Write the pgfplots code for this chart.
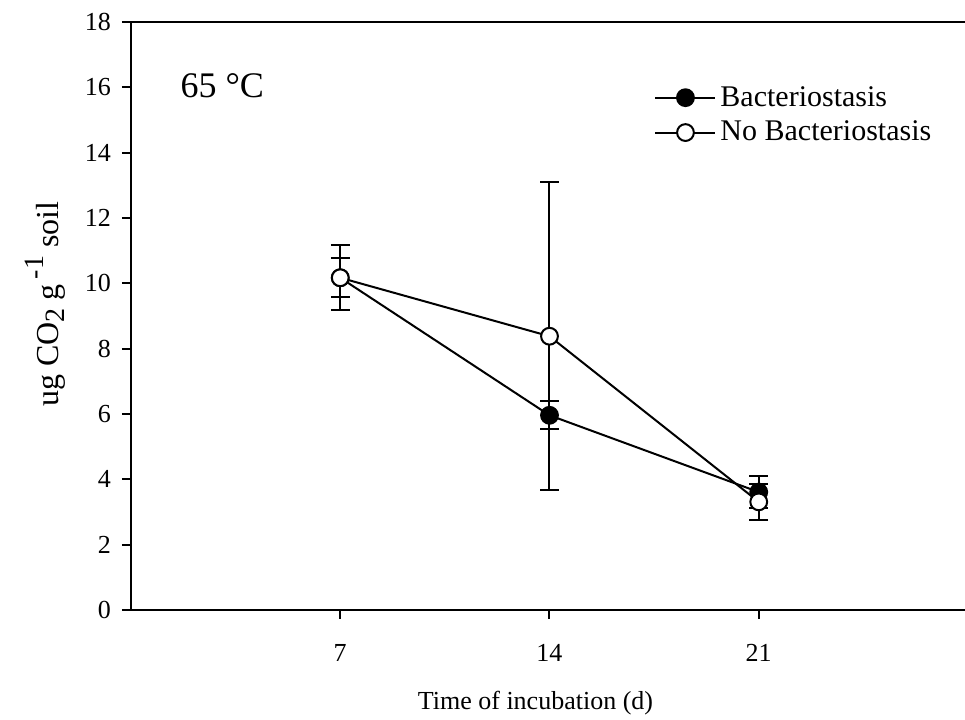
\documentclass[border=0pt]{standalone}
\usepackage{fontspec}
\setmainfont{Liberation Serif}
\usepackage{pgfplots}
\pgfplotsset{compat=1.18}
\begin{document}
\begin{tikzpicture}
\begin{axis}[name=ax,
  scale only axis, width=417pt, height=294pt,
  xmin=0, xmax=27.9, ymin=0, ymax=18,
  clip=false,
  axis x line*=bottom, axis y line*=left,
  axis line style={line width=1pt, -},
  xtick={7,14,21}, ytick={0,2,...,18},
  tick align=outside, major tick length=4.5pt,
  tick style={line width=1pt, black},
  /pgf/number format/assume math mode=true,
  every tick label/.append style={font=\fontsize{13}{15}\selectfont},
  xticklabel style={yshift=-9pt},
  yticklabel style={xshift=-2pt},
  xlabel={Time of incubation (d)},
  ylabel={ug CO\raisebox{-0.45ex}{\fontsize{14}{14}\selectfont 2} g\,\raisebox{1.0ex}{\fontsize{14}{14}\selectfont -1} soil},
  xlabel style={at={(axis description cs:0.485,0)}, anchor=center, yshift=-46.5pt, font=\fontsize{13}{15}\selectfont},
  ylabel style={at={(axis description cs:-0.103,0.52)}, anchor=center, font=\fontsize{16}{18}\selectfont},
  legend style={at={(rel axis cs:0.62,0.905)}, anchor=north west, draw=none, fill=none,
    font=\fontsize{15}{16.5}\selectfont, row sep=2pt},
  legend cell align=left,
  legend image code/.code={\draw[mark repeat=2,mark phase=2,#1] plot coordinates {(0pt,0pt) (15pt,0pt) (30pt,0pt)};},
]
\addplot[black, line width=1pt, mark=*, mark size=4.2pt, mark options={fill=black, line width=1pt},
  error bars/.cd, y dir=both, y explicit,
  error bar style={line width=1pt, black},
  error mark options={rotate=90, mark size=4.7pt, line width=1pt, black}]
  table[x=x, y=y, y error=e] {
x y e
7 10.17 0.60
14 5.96 0.43
21 3.61 0.48
};
\addlegendentry{Bacteriostasis}
\addplot[black, line width=1pt, mark=*, mark size=4.2pt, mark options={fill=white, line width=1pt},
  error bars/.cd, y dir=both, y explicit,
  error bar style={line width=1pt, black},
  error mark options={rotate=90, mark size=4.7pt, line width=1pt, black}]
  table[x=x, y=y, y error=e] {
x y e
7 10.17 1.00
14 8.38 4.72
21 3.31 0.54
};
\addlegendentry{No Bacteriostasis}
\draw[line width=1pt] (rel axis cs:0,1) -- (rel axis cs:1,1);
\node[anchor=west, font=\fontsize{18}{20}\selectfont] at (axis cs:1.42,16.05) {65 °C};
\end{axis}
\pgfresetboundingbox
\path[use as bounding box] ([xshift=-65.5pt,yshift=-55pt]ax.south west) rectangle ([yshift=11pt]ax.north east);
\end{tikzpicture}
\end{document}
